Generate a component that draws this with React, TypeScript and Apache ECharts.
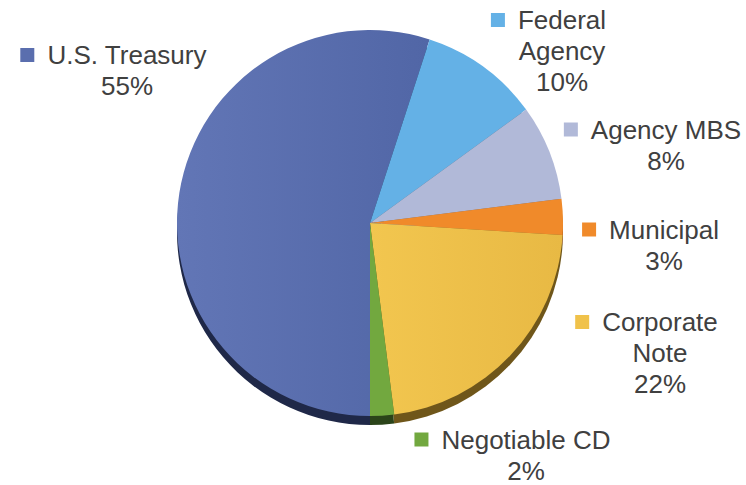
import React, { useEffect, useRef } from "react";
import * as echarts from "echarts";

const categories = ["U.S. Treasury", "Federal\nAgency", "Agency MBS", "Municipal", "Corporate\nNote", "Negotiable CD"];
const values = [55, 10, 8, 3, 22, 2];
const topColors = ["#5A6EAE", "#64B1E6", "#B1B9D8", "#F08A2A", "#F0C24A", "#72A83F"];
const rimColors = ["#1F2848", "#3A6A8C", "#6A7086", "#8A4E16", "#6F561A", "#2B4419"];
// label block centres (layout only)
const labelPos: [number, number][] = [
  [127, 70.5],
  [562, 51],
  [666, 145],
  [664, 245],
  [660, 353],
  [526, 455],
];

const FONT = "'Liberation Sans', Arial, Helvetica, sans-serif";
const TEXT = "#404040";

export default function App() {
  const ref = useRef<HTMLDivElement>(null);
  useEffect(() => {
    if (!ref.current) return;
    const chart = echarts.init(ref.current, null, { renderer: "svg" });
    const rich: Record<string, any> = {
      gap: { width: 13, height: 14, align: "center", lineHeight: 31 },
      pad: { width: 27, height: 14, align: "center", lineHeight: 31 },
      t: { fontSize: 26, fontFamily: FONT, color: TEXT, align: "center", lineHeight: 31 },
    };
    topColors.forEach((c, i) => {
      rich["sq" + i] = { width: 14, height: 14, backgroundColor: c, align: "center", lineHeight: 31 };
    });
    const topData = categories.map((name, i) => {
      let color: any = topColors[i];
      if (i === 0) {
        color = new echarts.graphic.LinearGradient(0, 0, 1, 0, [
          { offset: 0, color: "#6276B6" },
          { offset: 1, color: "#5166A6" },
        ]);
      } else if (i === 4) {
        color = new echarts.graphic.LinearGradient(0, 0, 1, 0, [
          { offset: 0, color: "#F2C64F" },
          { offset: 1, color: "#E8B944" },
        ]);
      }
      return { name, value: values[i], itemStyle: { color } };
    });
    const rimData = categories.map((name, i) => ({ name, value: values[i], itemStyle: { color: rimColors[i] } }));

    chart.setOption({
      animation: false,
      series: [
        {
          type: "pie",
          silent: true,
          z: 1,
          center: [370, 232],
          radius: 193,
          startAngle: 270,
          clockwise: true,
          avoidLabelOverlap: false,
          label: { show: false },
          labelLine: { show: false },
          itemStyle: { borderWidth: 0 },
          data: rimData,
        },
        {
          type: "pie",
          z: 2,
          center: [370, 223],
          radius: 193,
          startAngle: 270,
          clockwise: true,
          avoidLabelOverlap: false,
          itemStyle: { borderWidth: 0 },
          labelLine: { show: false },
          label: {
            show: true,
            position: "outside",
            align: "center",
            fontSize: 26,
            fontFamily: FONT,
            color: TEXT,
            lineHeight: 31,
            formatter: (p: any) => {
              const lines = String(p.name).split("\n");
              const first = `{sq${p.dataIndex}|}{gap|}{t|${lines[0]}}{pad|}`;
              const rest = lines.slice(1).map((l) => `{t|${l}}`);
              return [first, ...rest, `{t|${p.value}%}`].join("\n");
            },
            rich,
          },
          labelLayout: (params: any) => {
            const pos = labelPos[params.dataIndex];
            return { x: pos[0], y: pos[1], align: "center", verticalAlign: "middle" };
          },
          data: topData,
        },
      ],
    });
    return () => chart.dispose();
  }, []);
  return (
    <div
      ref={ref}
      style={{ position: "fixed", left: 0, top: 0, width: 746, height: 485, background: "#fff" }}
    />
  );
}
